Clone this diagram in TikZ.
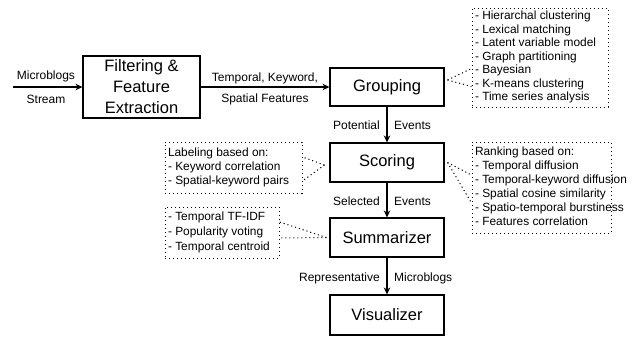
\documentclass[tikz,border=0pt]{standalone}
\usepackage{fontspec}
\setmainfont{Liberation Sans}
\usetikzlibrary{arrows.meta}
\newcommand{\listtext}[2]{\hbox to #1{\begin{tabular}{@{}l@{}}#2\end{tabular}\hss}}
\begin{document}
\begin{tikzpicture}[x=1pt,y=-1pt,
  proc/.style={draw,line width=1.1pt,minimum width=114pt,align=center,inner sep=0pt,
    font=\fontsize{16.5}{21}\selectfont},
  lst/.style={draw,line width=1pt,dash pattern=on 1.1pt off 2.9pt,inner xsep=3pt,inner ysep=0pt,
    font=\fontsize{11.9}{#1}\selectfont},
  lst/.default=14pt,
  lbl/.style={font=\fontsize{12}{14}\selectfont,inner sep=0pt},
  flow/.style={line width=1.3pt,-{Stealth[length=7pt,width=6.5pt]}},
  dots/.style={line width=1pt,dash pattern=on 1.1pt off 2.9pt}]
\useasboundingbox (0,0) rectangle (643,338);
% main boxes
\node[proc,minimum width=117pt,minimum height=62pt] (filt) at (141.5,87) {Filtering \&\\Feature\\Extraction};
\node[proc,minimum height=38pt] (grp) at (387,87) {Grouping};
\node[proc,minimum height=39pt] (scr) at (387,162.5) {Scoring};
\node[proc,minimum height=39pt] (sum) at (387,237.5) {Summarizer};
\node[proc,minimum height=40pt] (vis) at (387,315) {Visualizer};
% input
\coordinate (in) at (13,87);
\draw[flow] (in) -- (filt.west);
\node[lbl] (l1) at (46,76) {Microblogs};
\node[lbl] (l2) at (46,99) {Stream};
\draw[flow] (filt.east) -- (grp.west);
\node[lbl] (l3) at (265,78) {Temporal, Keyword,};
\node[lbl] (l4) at (265,99) {Spatial Features};
\draw[flow] (grp.south) -- (scr.north);
\node[lbl,anchor=east] (l5) at (380,125) {Potential};
\node[lbl,anchor=west] (l6) at (394,125) {Events};
\draw[flow] (scr.south) -- (sum.north);
\node[lbl,anchor=east] (l7) at (380,201) {Selected};
\node[lbl,anchor=west] (l8) at (394,201) {Events};
\draw[flow] (sum.south) -- (vis.north);
\node[lbl,anchor=east] (l9) at (380,278) {Representative};
\node[lbl,anchor=west] (l10) at (394,278) {Microblogs};
% lists
\node[lst=13.5pt,minimum height=99pt] (glist) at (540,57.5) {\raisebox{-3.5pt}{\listtext{130pt}{- Hierarchal clustering\\- Lexical matching\\- Latent variable model\\- Graph partitioning\\- Bayesian\\- K-means clustering\\- Time series analysis}}};
\node[lst,minimum height=51pt] (lab) at (233.5,167.5) {\listtext{131pt}{Labeling based on:\\- Keyword correlation\\- Spatial-keyword pairs}};
\node[lst,minimum height=91pt] (rank) at (541.5,187.5) {\listtext{133pt}{Ranking based on:\\- Temporal diffusion\\- Temporal-keyword diffusion\\- Spatial cosine similarity\\- Spatio-temporal burstiness\\- Features correlation}};
\node[lst=14.8pt,minimum height=51pt] (slist) at (222,232.5) {\listtext{108pt}{- Temporal TF-IDF\\- Popularity voting\\- Temporal centroid}};
% callout connectors
\coordinate (gp) at ([xshift=3pt,yshift=7pt]grp.east);
\draw[dots] (gp) -- ([yshift=-11pt]glist.west);
\draw[dots] (gp) -- ([yshift=-29pt]glist.west);
\coordinate (sp) at ([xshift=-5pt,yshift=-2.5pt]scr.west);
\draw[dots] (sp) -- ([yshift=10.5pt]lab.east);
\draw[dots] (sp) -- ([yshift=-13.5pt]lab.east);
\coordinate (rp) at ([xshift=3pt]scr.east);
\draw[dots] (rp) -- ([yshift=12.5pt]rank.west);
\draw[dots] (rp) -- ([yshift=-15.5pt]rank.west);
\coordinate (mp) at ([xshift=-3pt]sum.west);
\draw[dots] (mp) -- ([yshift=10.5pt]slist.east);
\draw[dots] (mp) -- ([yshift=-5.5pt]slist.east);
\end{tikzpicture}
\end{document}
